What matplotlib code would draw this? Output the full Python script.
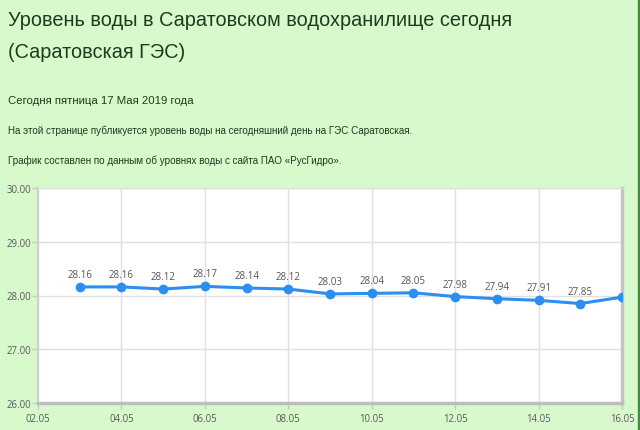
import matplotlib
matplotlib.use("Agg")
import matplotlib.pyplot as plt
import numpy as np

# data
dates = ["03.05", "04.05", "05.05", "06.05", "07.05", "08.05", "09.05",
         "10.05", "11.05", "12.05", "13.05", "14.05", "15.05", "16.05"]
levels = [28.16, 28.16, 28.12, 28.17, 28.14, 28.12, 28.03,
          28.04, 28.05, 27.98, 27.94, 27.91, 27.85, 27.97]
tick_labels = ["02.05", "04.05", "06.05", "08.05", "10.05", "12.05", "14.05", "16.05"]
y_ticks = [26.0, 27.0, 28.0, 29.0, 30.0]

title_lines = ["Уровень воды в Саратовском водохранилище сегодня",
               "(Саратовская ГЭС)"]
today_text = "Сегодня пятница 17 Мая 2019 года"
info_lines = ["На этой странице публикуется уровень воды на сегодняшний день на ГЭС Саратовская.",
              "График составлен по данным об уровнях воды с сайта ПАО «РусГидро»."]

BG = "#d8f9cc"
TXT = "#1d3b1d"
BLUE = "#2b8ef0"

fig = plt.figure(figsize=(6.4, 4.31), dpi=100, facecolor=BG)

# header text
fig.text(8/640, 1 - 20/431, title_lines[0], fontsize=14.3, color=TXT,
         family="Liberation Sans", va="center", ha="left")
fig.text(8/640, 1 - 53/431, title_lines[1], fontsize=14.3, color=TXT,
         family="Liberation Sans", va="center", ha="left")
fig.text(8/640, 1 - 101/431, today_text, fontsize=8.2, color=TXT,
         family="Liberation Sans", va="center", ha="left")
for i, line in enumerate(info_lines):
    fig.text(8/640, 1 - (131 + 30*i)/431, line, fontsize=7.1, color=TXT,
             family="Liberation Sans", va="center", ha="left")

# right edge strip
fig.patches.append(plt.Rectangle((638/640, 0), 2/640, 1, transform=fig.transFigure,
                                 color="#3f8f3f", zorder=0))

ax = fig.add_axes([38/640, 27/431, 584/640, 215/431])
ax.set_facecolor("white")

# x positions as day of month
day_of = lambda s: int(s.split(".")[0])
xs = np.array([day_of(d) for d in dates])
tick_pos = [day_of(t) for t in tick_labels]

ax.plot(xs, levels, color=BLUE, lw=2.2, marker="o", ms=6,
        markerfacecolor=BLUE, markeredgecolor=BLUE, zorder=3, clip_on=True)
for x, v in zip(xs[:-1], levels[:-1]):
    ax.annotate(f"{v:.2f}", (x, v), xytext=(0, 5), textcoords="offset points",
                ha="center", va="bottom", fontsize=7, color="#555555",
                family="Open Sans")

ax.set_xlim(2, 16)
ax.set_ylim(26, 30)
ax.set_xticks(tick_pos)
ax.set_xticklabels(tick_labels)
ax.set_yticks(y_ticks)
ax.set_yticklabels([f"{t:.2f}" for t in y_ticks])
ax.tick_params(axis="both", labelsize=6.9, labelcolor="#5a5a5a", color="#c8c8c8",
               length=4, width=1)
ax.tick_params(axis="x", pad=3)
ax.tick_params(axis="y", pad=1)
for lab in ax.get_xticklabels() + ax.get_yticklabels():
    lab.set_family("Open Sans")

ax.grid(True, color="#e0e0e0", lw=1)
ax.set_axisbelow(True)
ax.spines["left"].set_color("#cfcfcf")
ax.spines["left"].set_linewidth(1.5)
ax.spines["bottom"].set_color("#bdbdbd")
ax.spines["bottom"].set_linewidth(2.5)
ax.spines["right"].set_color("#c4c4c4")
ax.spines["right"].set_linewidth(2.5)
ax.spines["top"].set_color("#e0e0e0")
ax.spines["top"].set_linewidth(1)

fig.savefig("out.png", dpi=100, facecolor=BG)
